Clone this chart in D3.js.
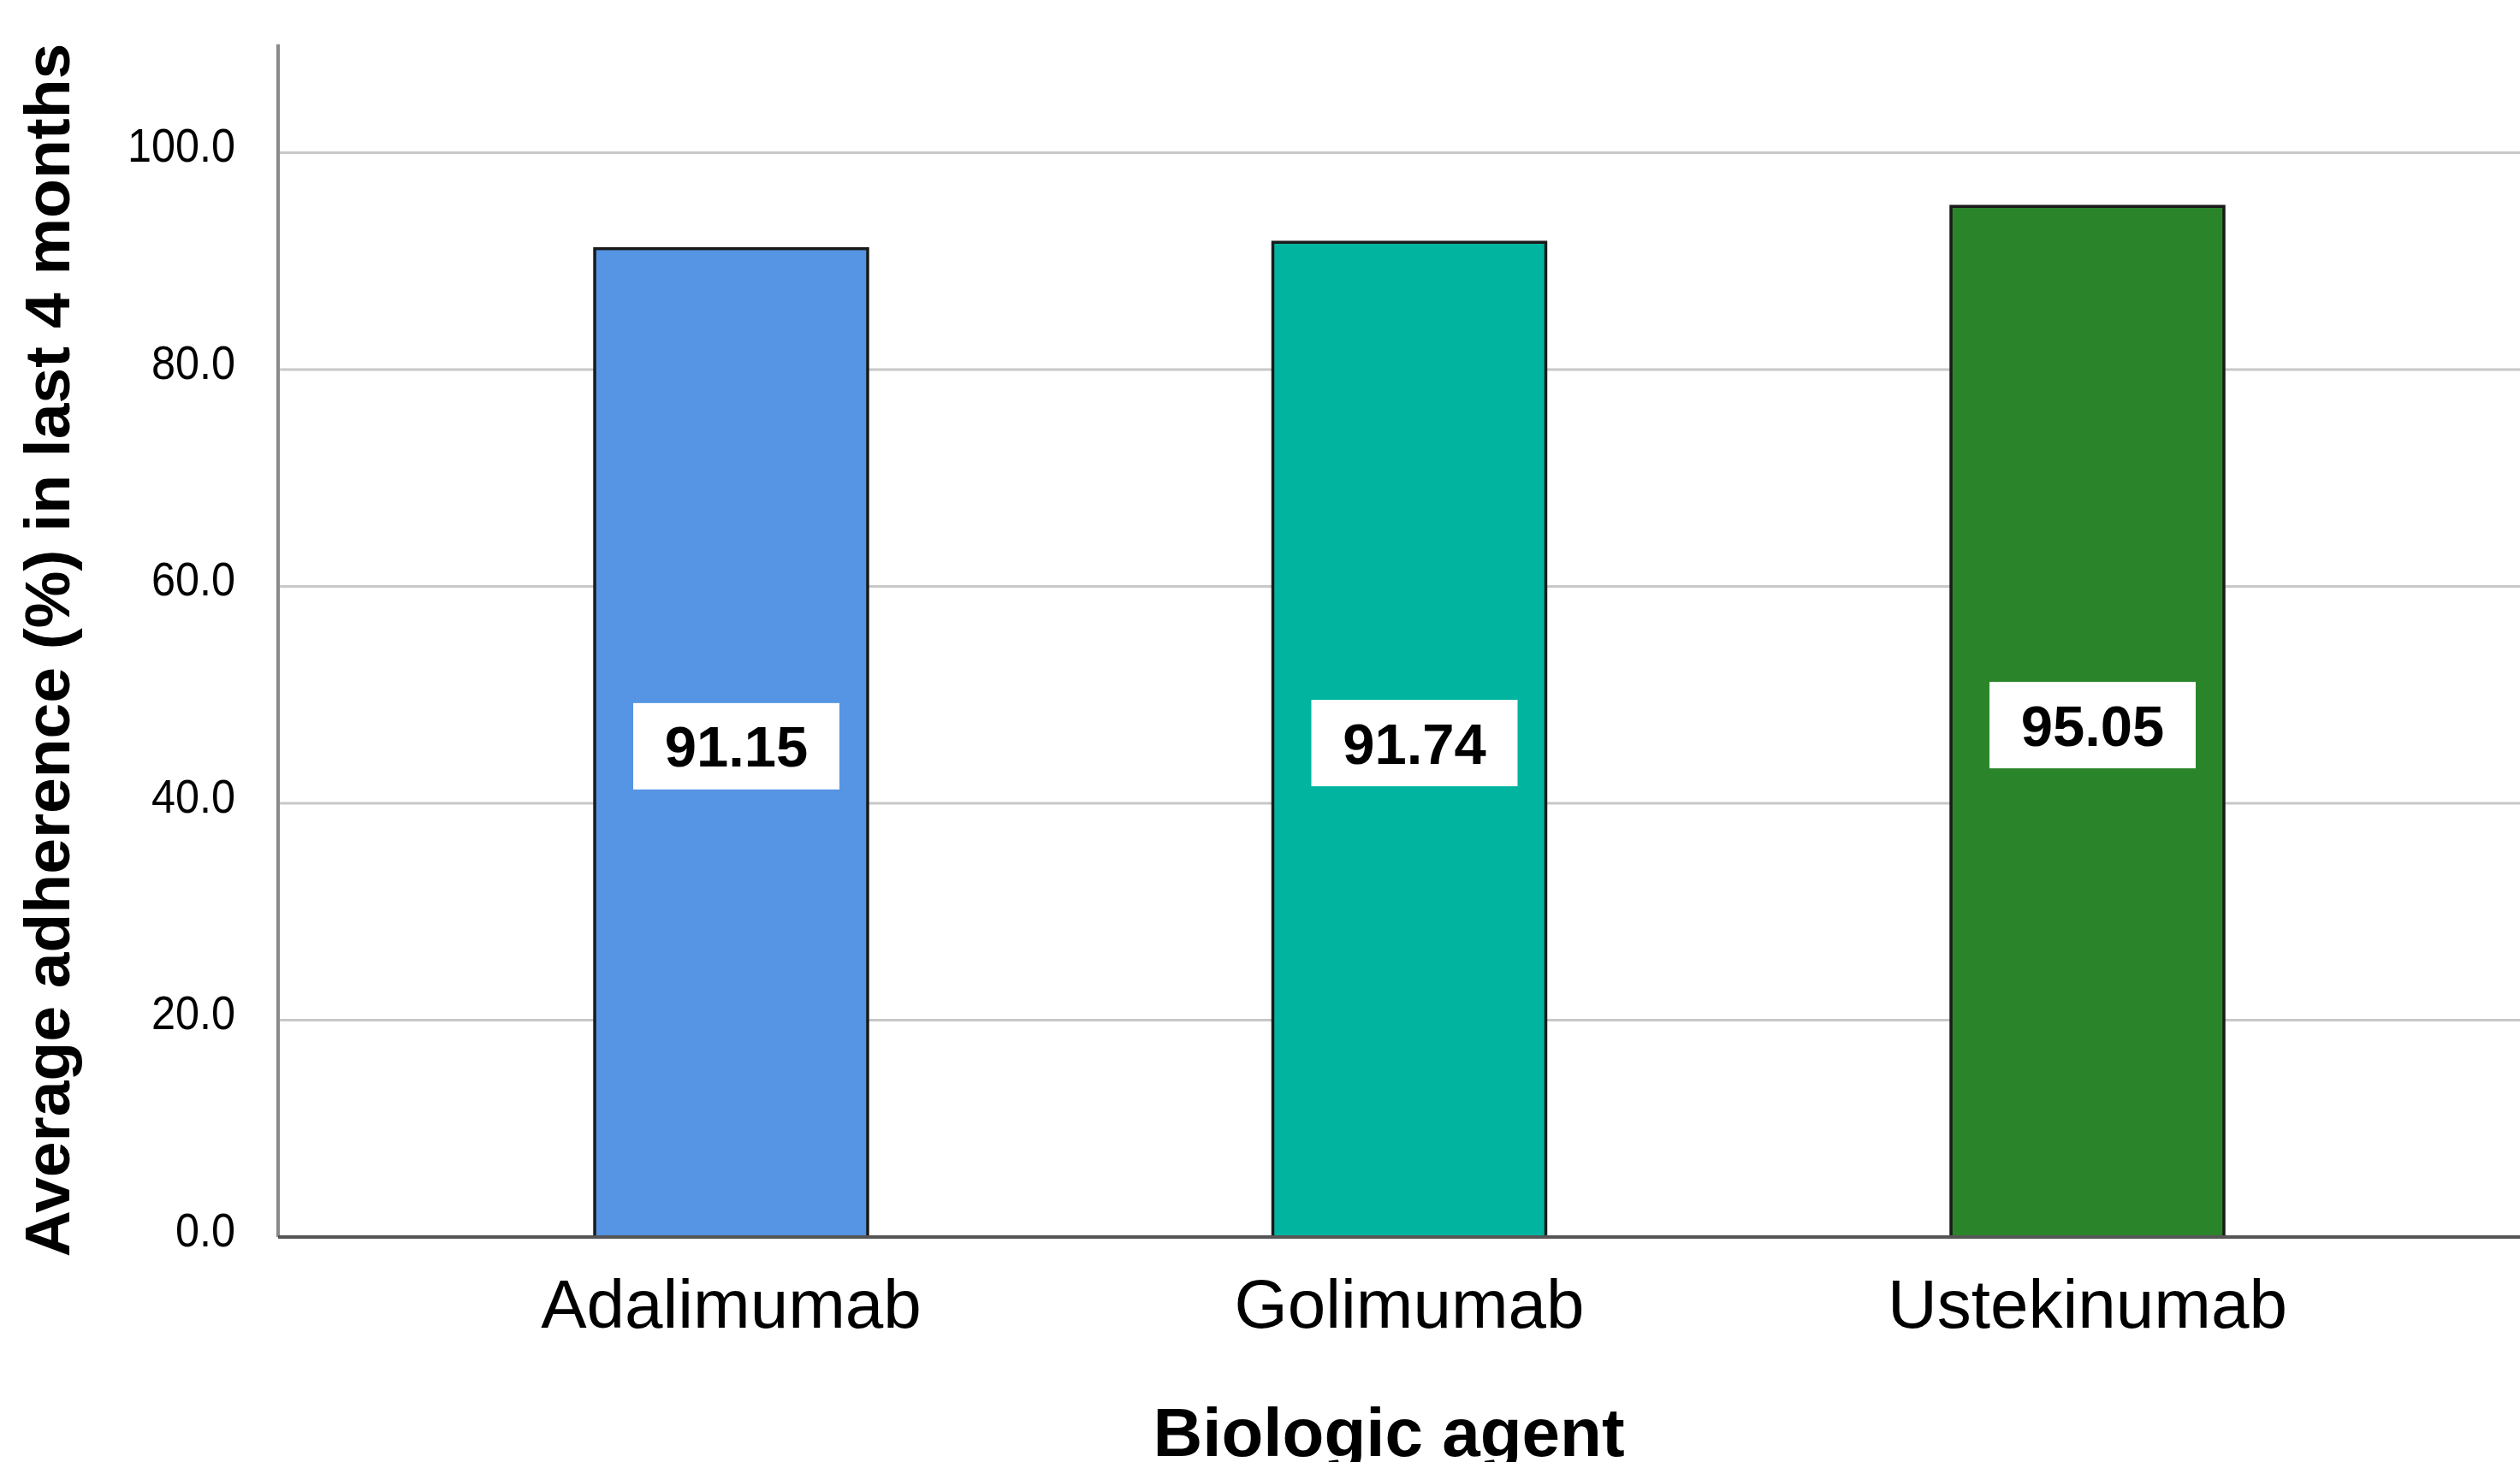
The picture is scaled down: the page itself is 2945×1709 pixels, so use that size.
<!DOCTYPE html>
<html>
<head>
<meta charset="utf-8">
<script src="https://cdn.jsdelivr.net/npm/d3@7"></script>
<style>
  html, body { margin: 0; padding: 0; background: #ffffff; }
  svg { display: block; }
</style>
</head>
<body>
<svg id="chart" width="2945" height="1709"></svg>
<script>
// ---- data ----
const categories = ["Adalimumab", "Golimumab", "Ustekinumab"];
const values = [91.15, 91.74, 95.05];
const valueLabels = ["91.15", "91.74", "95.05"];
const barColors = ["#5595E3", "#00B4A0", "#2A852A"];
const yTicks = [0, 20, 40, 60, 80, 100];
const yTitle = "Average adherence (%) in last 4 months";
const xTitle = "Biologic agent";

// ---- layout ----
const W = 2945, H = 1709;
const svg = d3.select("#chart");
const font = "'Liberation Sans', Arial, Helvetica, sans-serif";

const y = d3.scaleLinear().domain([0, 110]).range([1446, 1446 - 110 * 12.675]);
const x = d3.scaleBand().domain(categories).range([325, 2969])
  .paddingInner(0.5975).paddingOuter(0.4669);

// gridlines
svg.append("g").selectAll("line").data(yTicks.filter(d => d > 0)).join("line")
  .attr("x1", 325).attr("x2", W)
  .attr("y1", d => y(d)).attr("y2", d => y(d))
  .attr("stroke", "#c8c8c8").attr("stroke-width", 3);

// y axis (labels via d3 axis), slightly condensed like the reference
const yAxis = d3.axisLeft(y).tickValues(yTicks).tickFormat(d3.format(".1f")).tickSize(0).tickPadding(0);
const gy = svg.append("g").attr("transform", "translate(325,0)").call(yAxis);
gy.select(".domain").remove();
gy.selectAll(".tick text")
  .attr("x", 0).attr("dy", "0.18em")
  .attr("transform", "translate(-50,0) scale(0.9,1)")
  .attr("font-family", font).attr("font-size", 56).attr("fill", "#000");

// y axis line
svg.append("line").attr("x1", 325).attr("x2", 325)
  .attr("y1", y(110)).attr("y2", y(0))
  .attr("stroke", "#8a8a8a").attr("stroke-width", 4);

// bars
svg.append("g").selectAll("rect").data(categories).join("rect")
  .attr("x", d => x(d))
  .attr("y", (d, i) => y(values[i]))
  .attr("width", x.bandwidth())
  .attr("height", (d, i) => y(0) - y(values[i]))
  .attr("fill", (d, i) => barColors[i])
  .attr("stroke", "#1a1a1a").attr("stroke-width", 3.5);

// x baseline
svg.append("line").attr("x1", 325).attr("x2", W)
  .attr("y1", y(0)).attr("y2", y(0))
  .attr("stroke", "#555555").attr("stroke-width", 4);

// value label boxes
const lab = svg.append("g").selectAll("g").data(categories).join("g")
  .attr("transform", (d, i) => `translate(${x(d) + x.bandwidth() / 2 + 6},${y(values[i] / 2) + 4})`);
lab.append("rect").attr("x", -120.5).attr("y", -50.5).attr("width", 241).attr("height", 101).attr("fill", "#ffffff");
lab.append("text").text((d, i) => valueLabels[i])
  .attr("text-anchor", "middle").attr("dy", "0.36em")
  .attr("font-family", font).attr("font-weight", "bold").attr("font-size", 67).attr("fill", "#000");

// x axis labels
const xAxis = d3.axisBottom(x).tickSize(0).tickPadding(0);
const gx = svg.append("g").attr("transform", `translate(0,${y(0)})`).call(xAxis);
gx.select(".domain").remove();
gx.selectAll("text")
  .attr("font-family", font).attr("font-size", 80).attr("fill", "#000")
  .attr("y", 106).attr("dy", 0);

// axis titles
svg.append("text").text(xTitle)
  .attr("x", 1623).attr("y", 1702).attr("text-anchor", "middle")
  .attr("font-family", font).attr("font-weight", "bold").attr("font-size", 80).attr("fill", "#000");

svg.append("text").text(yTitle)
  .attr("transform", "translate(81,760) rotate(-90)").attr("text-anchor", "middle")
  .attr("font-family", font).attr("font-weight", "bold").attr("font-size", 75).attr("fill", "#000");
</script>
</body>
</html>
